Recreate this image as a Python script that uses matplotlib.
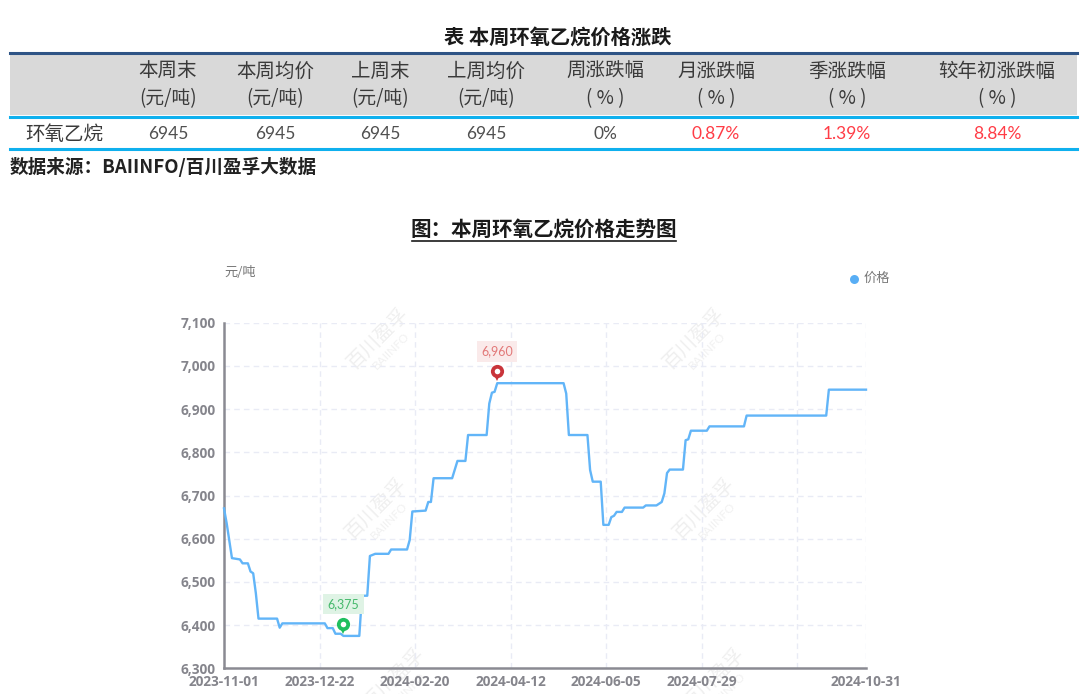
import matplotlib
matplotlib.use("Agg")
import matplotlib.pyplot as plt
from matplotlib.patches import Rectangle
from matplotlib.transforms import offset_copy

plt.rcParams['font.family'] = ['Noto Sans CJK SC', 'DejaVu Sans']

# table contents
table_title = "表 本周环氧乙烷价格涨跌"
header_top = ["本周末", "本周均价", "上周末", "上周均价", "周涨跌幅", "月涨跌幅", "季涨跌幅", "较年初涨跌幅"]
header_bottom = ["(元/吨)", "(元/吨)", "(元/吨)", "(元/吨)", "( % )", "( % )", "( % )", "( % )"]
row_name = "环氧乙烷"
row_values = ["6945", "6945", "6945", "6945", "0%", "0.87%", "1.39%", "8.84%"]
source_text = "数据来源：BAIINFO/百川盈孚大数据"
chart_title = "图：本周环氧乙烷价格走势图"

# price series (category position, price)
day_pos = [0, 1, 3, 6, 7, 9, 10, 11, 12, 13, 20, 21, 22, 38, 39, 41, 42, 44, 45, 51, 52, 54, 55, 57,
           62, 63, 69, 70, 71, 76, 77, 78, 79, 86, 88, 91, 92, 99, 100, 101, 102, 103, 128, 129, 130,
           137, 138, 139, 142, 143, 145, 146, 147, 148, 150, 151, 158, 159, 163, 165, 166, 167, 168,
           173, 174, 175, 176, 182, 183, 196, 197, 227, 228, 242]
price = [6670, 6636, 6555, 6552, 6543, 6543, 6524, 6520, 6474, 6415, 6415, 6394, 6404, 6404, 6393, 6393,
         6380, 6380, 6375, 6375, 6468, 6468, 6560, 6565, 6565, 6575, 6575, 6597, 6663, 6665, 6685, 6685,
         6740, 6740, 6780, 6780, 6840, 6840, 6913, 6938, 6940, 6960, 6960, 6936, 6840, 6840, 6759, 6732,
         6732, 6632, 6632, 6650, 6653, 6662, 6662, 6672, 6672, 6677, 6677, 6685, 6705, 6752, 6760, 6760,
         6828, 6830, 6850, 6850, 6860, 6860, 6885, 6885, 6945, 6945]

tick_pos = [0, 36, 72, 108, 144, 180, 242]
tick_labels = ["2023-11-01", "2023-12-22", "2024-02-20", "2024-04-12", "2024-06-05", "2024-07-29", "2024-10-31"]
grid_pos = [36, 72, 108, 144, 180, 216, 242]
y_ticks = [6300, 6400, 6500, 6600, 6700, 6800, 6900, 7000, 7100]

W, H = 1080, 694
fig = plt.figure(figsize=(W / 100, H / 100), dpi=100)

# overlay in pixel coords for the table and titles
page = fig.add_axes([0, 0, 1, 1])
page.set_xlim(0, W)
page.set_ylim(H, 0)
page.axis('off')

page.text(558, 37, table_title, ha='center', va='center', fontsize=14.6, fontweight='bold', color='#1a1a1a')
page.add_patch(Rectangle((10, 53), 1067, 62, fc='#d9d9d9', ec='none'))
page.plot([10, 1077], [53, 53], color='#2f5486', lw=2.2)
page.plot([10, 1077], [116.5, 116.5], color='#0fb0ee', lw=2.2)
page.plot([10, 1077], [149, 149], color='#0fb0ee', lw=2.2)

col_x = [168, 275, 380, 486, 605, 716, 847, 997]
for i, x in enumerate(col_x):
    page.text(x, 71, header_top[i], ha='center', va='center', fontsize=14, color='#3a3a3a')
    page.text(x, 99, header_bottom[i], ha='center', va='center', fontsize=13.5, color='#3a3a3a')
    val_color = '#ff3c46' if i >= 5 else '#505050'
    page.text(x, 134, row_values[i], ha='center', va='center', fontsize=12.5, color=val_color,
              family=['Lato', 'DejaVu Sans'])
page.text(64, 134, row_name, ha='center', va='center', fontsize=14, color='#3a3a3a')
page.text(10, 167, source_text, ha='left', va='center', fontsize=13.4, fontweight='bold', color='#222222')

page.text(544, 230, chart_title, ha='center', va='center', fontsize=14.8, fontweight='bold', color='#1a1a1a')
page.plot([412, 676], [240.5, 240.5], color='#1a1a1a', lw=1.2)

page.text(224, 272, "元/吨", ha='left', va='center', fontsize=9.5, color='#777777')
page.scatter([854], [278.5], s=42, color='#58aef5', lw=0)
page.text(864, 278, "价格", ha='left', va='center', fontsize=9.5, color='#777777')

# watermarks
for x, y in [(382, 342), (698, 342), (380, 512), (708, 512), (398, 682), (718, 682)]:
    page.text(x - 4, y - 4, "百川盈孚", rotation=45, ha='center', va='center', fontsize=14, color='#efefef')
    page.text(x + 9, y + 9, "BAIINFO", rotation=45, ha='center', va='center', fontsize=8.5, color='#f1f1f1',
              family=['Lato', 'DejaVu Sans'])

# chart
ax = fig.add_axes([224 / W, 1 - 668.3 / H, 642 / W, 345.6 / H])
ax.patch.set_alpha(0)
ax.set_xlim(0, 242)
ax.set_ylim(6300, 7100)
ax.set_yticks(y_ticks)
ax.set_yticklabels([f"{v:,}" for v in y_ticks], fontsize=9.8, fontweight='bold', color='#85858c',
                   family=['Open Sans', 'DejaVu Sans'])
ax.set_xticks(tick_pos)
ax.set_xticklabels(tick_labels, fontsize=9.8, fontweight='bold', color='#85858c',
                   family=['Open Sans', 'DejaVu Sans'])
ax.tick_params(length=0, pad=6)
ax.tick_params(axis='x', pad=4.5)
for v in y_ticks[1:]:
    ax.axhline(v, color='#e9ebf5', lw=1, ls=(0, (4, 3)), zorder=1)
for v in grid_pos:
    ax.axvline(v, color='#e9ebf5', lw=1, ls=(0, (4, 3)), zorder=1)
for s in ['top', 'right']:
    ax.spines[s].set_visible(False)
for s in ['left', 'bottom']:
    ax.spines[s].set_color('#8a8a92')
    ax.spines[s].set_linewidth(1.8)

ax.plot(day_pos, price, color='#62b5f8', lw=1.7, zorder=3, clip_on=False, solid_joinstyle='round')


def add_pin(pos, value, color, box_color, text_color):
    # pin head and tip sit above the point, label box above that
    tip = offset_copy(ax.transData, fig=fig, y=3.5, units='points')
    head = offset_copy(ax.transData, fig=fig, y=8.5, units='points')
    ax.plot([pos], [value], marker='v', ms=5, color=color, mew=0, transform=tip, zorder=6, clip_on=False)
    ax.plot([pos], [value], marker='o', ms=9.5, color=color, mew=0, transform=head, zorder=6, clip_on=False)
    ax.plot([pos], [value], marker='o', ms=4, color='white', mew=0, transform=head, zorder=7, clip_on=False)
    ax.annotate(f"{value:,}", (pos, value), xytext=(0, 23), textcoords='offset points', ha='center', va='center',
                fontsize=9, color=text_color, zorder=5, family=['Lato', 'DejaVu Sans'],
                bbox=dict(boxstyle='square,pad=0.35', fc=box_color, ec='none'))


add_pin(45, 6375, '#1fbf5f', '#dff3e5', '#45b96c')
add_pin(103, 6960, '#c9343a', '#faeaea', '#e27878')

fig.savefig("out.png", dpi=100)
